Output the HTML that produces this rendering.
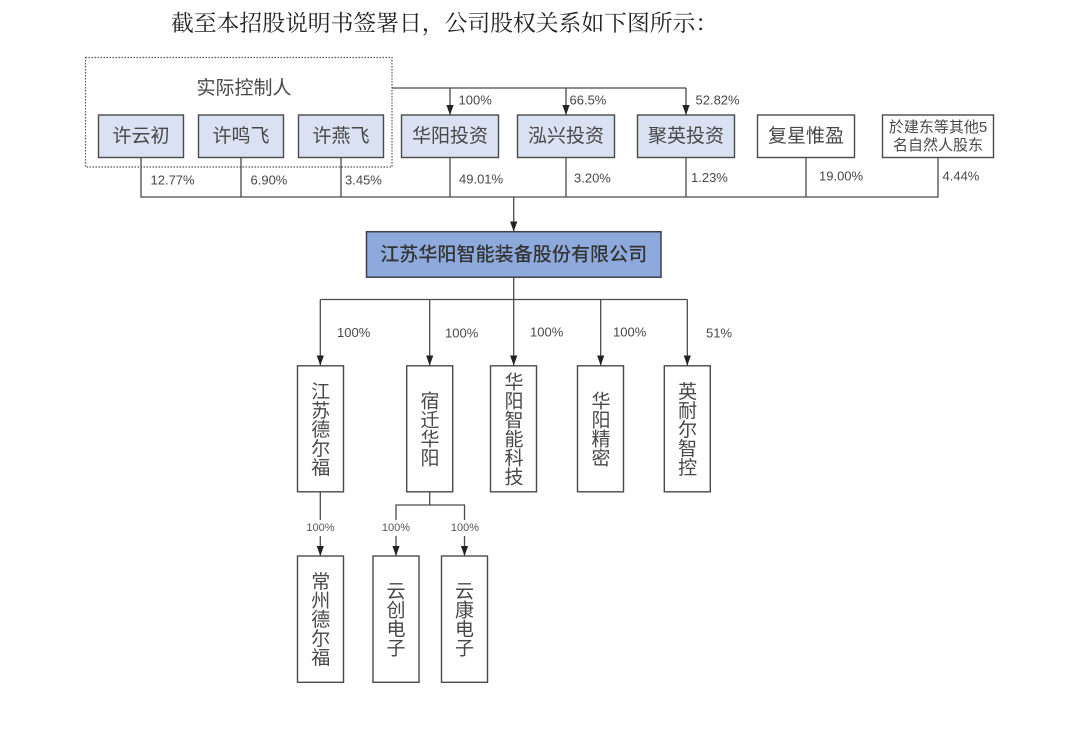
<!DOCTYPE html>
<html lang="zh">
<head>
<meta charset="utf-8">
<title>股权关系图</title>
<style>
html,body{margin:0;padding:0;background:#fff;}
svg{display:block;filter:blur(0.35px);}
text{font-family:"Liberation Sans","Noto Sans CJK SC",sans-serif;fill:#444;}
.h{font-family:"Liberation Serif","Noto Serif CJK SC",serif;font-size:22.8px;fill:#222;}
.c{font-size:19px;text-anchor:middle;dominant-baseline:central;fill:#484848;}
.s{font-size:15px;text-anchor:middle;dominant-baseline:central;fill:#484848;}
.m{font-size:19px;text-anchor:middle;dominant-baseline:central;fill:#333;font-weight:500;}
.p{font-size:13px;dominant-baseline:central;fill:#484848;}
.q{font-size:11px;text-anchor:middle;dominant-baseline:central;fill:#555;}
.v{font-size:19px;writing-mode:vertical-rl;text-orientation:upright;text-anchor:middle;fill:#484848;}
.l{stroke:#4a4a4a;stroke-width:1.3;fill:none;}
.b{stroke:#4a4a4a;stroke-width:1.4;}
</style>
</head>
<body>
<svg width="1080" height="732" viewBox="0 0 1080 732" xmlns="http://www.w3.org/2000/svg">
<defs>
<marker id="a" markerUnits="userSpaceOnUse" markerWidth="11" markerHeight="9" refX="10" refY="4" orient="auto">
<path d="M0,0.4 L10,4 L0,7.6 Z" fill="#222"/>
</marker>
</defs>
<rect width="1080" height="732" fill="#fff"/>
<text class="h" x="171" y="31">截至本招股说明书签署日，公司股权关系如下图所示：</text>

<rect x="85.5" y="57.5" width="306.5" height="109.5" fill="none" stroke="#555" stroke-width="1.2" stroke-dasharray="1.5 1.5"/>
<text class="c" x="244" y="88.5">实际控制人</text>

<path class="l" d="M392 88H686"/>
<path class="l" d="M450 88V115" marker-end="url(#a)"/>
<path class="l" d="M566 88V115" marker-end="url(#a)"/>
<path class="l" d="M686 88V115" marker-end="url(#a)"/>

<path class="l" d="M141 157V197H938V157M241 157V197M341 157V197M450 157V197M566 157V197M686 157V197M806 157V197"/>
<path class="l" d="M513.7 197V231.5" marker-end="url(#a)"/>

<g class="b" fill="#d9e1f2">
<rect x="98.5" y="115" width="85" height="42.5"/>
<rect x="198.5" y="115" width="85" height="42.5"/>
<rect x="298.5" y="115" width="85" height="42.5"/>
<rect x="401.5" y="115" width="97" height="42.5"/>
<rect x="517.5" y="115" width="97" height="42.5"/>
<rect x="637.5" y="115" width="97" height="42.5"/>
</g>
<g class="b" fill="#fff">
<rect x="757.5" y="115" width="97" height="42.5"/>
<rect x="882.5" y="115" width="111" height="42.5"/>
</g>
<text class="c" x="141" y="136.5">许云初</text>
<text class="c" x="241" y="136.5">许鸣飞</text>
<text class="c" x="341" y="136.5">许燕飞</text>
<text class="c" x="450" y="136.5">华阳投资</text>
<text class="c" x="566" y="136.5">泓兴投资</text>
<text class="c" x="686" y="136.5">聚英投资</text>
<text class="c" x="806" y="136.5">复星惟盈</text>
<text class="s" x="938" y="127.5">於建东等其他5</text>
<text class="s" x="938" y="145.5">名自然人股东</text>

<text class="p" x="458.5" y="100">100%</text>
<text class="p" x="569.5" y="100">66.5%</text>
<text class="p" x="695.5" y="100">52.82%</text>
<text class="p" x="150.5" y="180">12.77%</text>
<text class="p" x="250.5" y="180">6.90%</text>
<text class="p" x="345" y="180">3.45%</text>
<text class="p" x="459" y="179">49.01%</text>
<text class="p" x="574" y="178">3.20%</text>
<text class="p" x="691" y="177.5">1.23%</text>
<text class="p" x="819" y="176">19.00%</text>
<text class="p" x="942.5" y="176">4.44%</text>

<rect x="366.5" y="231.7" width="294.5" height="45.5" fill="#8ea9db" stroke="#3f3f4a" stroke-width="1.5"/>
<text class="m" x="513.7" y="255" textLength="267" lengthAdjust="spacing">江苏华阳智能装备股份有限公司</text>

<path class="l" d="M320.3 299.5H687.3"/>
<path class="l" d="M320.3 299.5V365.5" marker-end="url(#a)"/>
<path class="l" d="M429.7 299.5V365.5" marker-end="url(#a)"/>
<path class="l" d="M513.7 277V365.5" marker-end="url(#a)"/>
<path class="l" d="M600.7 299.5V365.5" marker-end="url(#a)"/>
<path class="l" d="M687.3 299.5V365.5" marker-end="url(#a)"/>

<text class="p" x="337" y="332.5">100%</text>
<text class="p" x="445" y="333">100%</text>
<text class="p" x="530" y="332">100%</text>
<text class="p" x="613" y="332">100%</text>
<text class="p" x="706" y="333">51%</text>

<g class="b" fill="#fff">
<rect x="297.5" y="365.8" width="46" height="126"/>
<rect x="406.7" y="365.8" width="46" height="126"/>
<rect x="490.5" y="365.8" width="46" height="126"/>
<rect x="577.5" y="365.8" width="46" height="126"/>
<rect x="664.3" y="365.8" width="46" height="126"/>
<rect x="297.5" y="556" width="46" height="126.3"/>
<rect x="373" y="556" width="46" height="126.3"/>
<rect x="441.5" y="556" width="46" height="126.3"/>
</g>

<text class="v" x="318.8" y="429">江苏德尔福</text>
<text class="v" x="428" y="429">宿迁华阳</text>
<text class="v" x="512" y="429">华阳智能科技</text>
<text class="v" x="599" y="429">华阳精密</text>
<text class="v" x="685.6" y="429">英耐尔智控</text>
<text class="v" x="318.8" y="619">常州德尔福</text>
<text class="v" x="394" y="619">云创电子</text>
<text class="v" x="462.5" y="619">云康电子</text>

<path class="l" d="M320.3 492V520"/>
<path class="l" d="M320.3 536V556" marker-end="url(#a)"/>
<path class="l" d="M429.7 492V505M396 520V505H464.5V520"/>
<path class="l" d="M396 536V556" marker-end="url(#a)"/>
<path class="l" d="M464.5 536V556" marker-end="url(#a)"/>
<text class="q" x="320.5" y="528">100%</text>
<text class="q" x="396" y="528">100%</text>
<text class="q" x="465" y="528">100%</text>
</svg>
</body>
</html>
